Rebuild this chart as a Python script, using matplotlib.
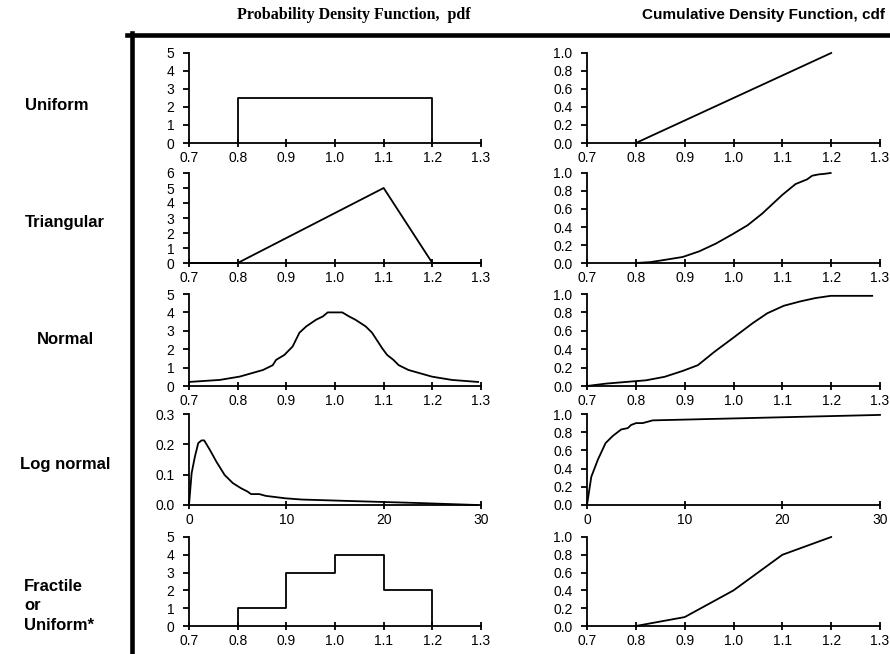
import numpy as np
import matplotlib.pyplot as plt
from matplotlib.lines import Line2D

plt.rcParams['font.family'] = ['Liberation Sans', 'DejaVu Sans']

# ---- data ----
row_names = ['Uniform', 'Triangular', 'Normal', 'Log normal', 'Fractile\nor\nUniform*']

uni_pdf_x = [0.8, 0.8, 1.2, 1.2]
uni_pdf_y = [0, 2.5, 2.5, 0]
uni_cdf_x = [0.8, 1.2]
uni_cdf_y = [0.0, 1.0]

tri_pdf_x = [0.7, 0.8, 1.1, 1.2, 1.3]
tri_pdf_y = [0, 0, 5, 0, 0]
tri_cdf_x = [0.8, 0.83, 0.862, 0.896, 0.93, 0.964, 0.998, 1.029, 1.059, 1.1,
             1.127, 1.151, 1.161, 1.175, 1.185, 1.199]
tri_cdf_y = [0.0, 0.01, 0.037, 0.067, 0.13, 0.216, 0.32, 0.42, 0.55, 0.757,
             0.877, 0.93, 0.97, 0.985, 0.99, 1.0]

norm_pdf_x = [0.70, 0.763, 0.804, 0.852, 0.872, 0.879, 0.896, 0.913, 0.927, 0.941,
              0.961, 0.975, 0.985, 1.015, 1.029, 1.042, 1.063, 1.076, 1.097, 1.107,
              1.12, 1.131, 1.151, 1.199, 1.24, 1.294]
norm_pdf_y = [0.22, 0.33, 0.51, 0.87, 1.13, 1.42, 1.69, 2.15, 2.9, 3.24,
              3.6, 3.78, 4.0, 4.0, 3.78, 3.6, 3.24, 2.9, 2.05, 1.69,
              1.42, 1.13, 0.87, 0.51, 0.33, 0.22]
norm_cdf_x = [0.7, 0.739, 0.78, 0.821, 0.859, 0.896, 0.927, 0.961, 0.998, 1.039,
              1.069, 1.103, 1.137, 1.168, 1.199, 1.284]
norm_cdf_y = [0.0, 0.026, 0.044, 0.062, 0.1, 0.164, 0.226, 0.372, 0.518, 0.682,
              0.79, 0.872, 0.92, 0.956, 0.98, 0.98]

logn_pdf_x = [0, 0.27, 0.61, 0.95, 1.29, 1.56, 2.14, 2.81, 3.66, 4.51, 5.36,
              6.03, 6.37, 7.22, 7.9, 9.93, 11.6, 16.7, 23.5, 29.6]
logn_pdf_y = [0.0, 0.105, 0.16, 0.204, 0.213, 0.213, 0.182, 0.143, 0.099, 0.072, 0.055,
              0.044, 0.036, 0.036, 0.03, 0.022, 0.018, 0.013, 0.0066, 0.0]
logn_cdf_x = [0, 0.44, 1.12, 1.9, 2.65, 3.5, 4.18, 4.52, 5.03, 5.7, 6.73, 30]
logn_cdf_y = [0.0, 0.31, 0.50, 0.68, 0.76, 0.83, 0.845, 0.88, 0.9, 0.9, 0.93, 0.99]

frac_pdf_x = [0.8, 0.8, 0.9, 0.9, 1.0, 1.0, 1.1, 1.1, 1.2, 1.2]
frac_pdf_y = [0, 1, 1, 3, 3, 4, 4, 2, 2, 0]
frac_cdf_x = [0.8, 0.9, 1.0, 1.1, 1.2]
frac_cdf_y = [0.0, 0.1, 0.4, 0.8, 1.0]

x_ticks = [0.7, 0.8, 0.9, 1.0, 1.1, 1.2, 1.3]
logn_x_ticks = [0, 10, 20, 30]
cdf_ticks = [0.0, 0.2, 0.4, 0.6, 0.8, 1.0]

pdfs = [(uni_pdf_x, uni_pdf_y), (tri_pdf_x, tri_pdf_y), (norm_pdf_x, norm_pdf_y),
        (logn_pdf_x, logn_pdf_y), (frac_pdf_x, frac_pdf_y)]
cdfs = [(uni_cdf_x, uni_cdf_y), (tri_cdf_x, tri_cdf_y), (norm_cdf_x, norm_cdf_y),
        (logn_cdf_x, logn_cdf_y), (frac_cdf_x, frac_cdf_y)]
pdf_yticks = [[0, 1, 2, 3, 4, 5], [0, 1, 2, 3, 4, 5, 6], [0, 1, 2, 3, 4, 5],
              [0.0, 0.1, 0.2, 0.3], [0, 1, 2, 3, 4, 5]]

# ---- layout (pixels) ----
W, H = 890, 654
fig = plt.figure(figsize=(W / 100, H / 100), dpi=100)

rows = [(53, 143), (173, 263), (294, 386), (414, 505), (537, 626)]
cols = [(189, 481), (587, 880)]
lw = 1.3


def rect(x0, x1, top, bottom):
    return [x0 / W, 1 - bottom / H, (x1 - x0) / W, (bottom - top) / H]


def style(ax, xt, xl, yt, yl):
    ax.set_xlim(xt[0], xt[-1])
    ax.set_ylim(yt[0], yt[-1])
    ax.set_xticks(xt)
    ax.set_xticklabels(xl)
    ax.set_yticks(yt)
    ax.set_yticklabels(yl)
    for s in ['top', 'right']:
        ax.spines[s].set_visible(False)
    for s in ['left', 'bottom']:
        ax.spines[s].set_linewidth(lw)
    ax.tick_params(axis='x', direction='inout', length=6, width=lw, pad=3, labelsize=10)
    ax.tick_params(axis='y', direction='out', length=4.5, width=lw, pad=6, labelsize=10)
    ax.patch.set_visible(False)


for i, (top, bottom) in enumerate(rows):
    if i == 3:
        xt = logn_x_ticks
        xl = [str(v) for v in xt]
    else:
        xt = x_ticks
        xl = ['%.1f' % v for v in xt]

    ax = fig.add_axes(rect(cols[0][0], cols[0][1], top, bottom))
    ax.plot(pdfs[i][0], pdfs[i][1], color='black', lw=lw, clip_on=False)
    yt = pdf_yticks[i]
    yl = ['%.1f' % v for v in yt] if i == 3 else [str(v) for v in yt]
    style(ax, xt, xl, yt, yl)

    ax2 = fig.add_axes(rect(cols[1][0], cols[1][1], top, bottom))
    ax2.plot(cdfs[i][0], cdfs[i][1], color='black', lw=lw, clip_on=False)
    style(ax2, xt, xl, cdf_ticks, ['%.1f' % v for v in cdf_ticks])

# row labels
label_pos = [(57, 105), (65, 222), (65, 340), (65, 465)]
for name, (x, y) in zip(row_names[:4], label_pos):
    fig.text(x / W, 1 - y / H, name, ha='center', va='center',
             fontsize=12, fontweight='bold')
fig.text(24 / W, 1 - 606 / H, row_names[4], ha='left', va='center',
         fontsize=12, fontweight='bold', linespacing=1.4)

# column headers
fig.text(354 / W, 1 - 15 / H, 'Probability Density Function,  pdf', ha='center', va='center',
         family=['Liberation Serif', 'DejaVu Serif'], fontsize=11.5, fontweight='bold')
fig.text(763 / W, 1 - 15 / H, 'Cumulative Density Function, cdf', ha='center', va='center',
         fontsize=11, fontweight='bold')

# frame
fig.add_artist(Line2D([127 / W, 1], [1 - 35 / H, 1 - 35 / H], color='black', lw=3.3))
fig.add_artist(Line2D([132 / W, 132 / W], [1 - 33 / H, 0], color='black', lw=3.3))

fig.savefig('out.png', dpi=100)
